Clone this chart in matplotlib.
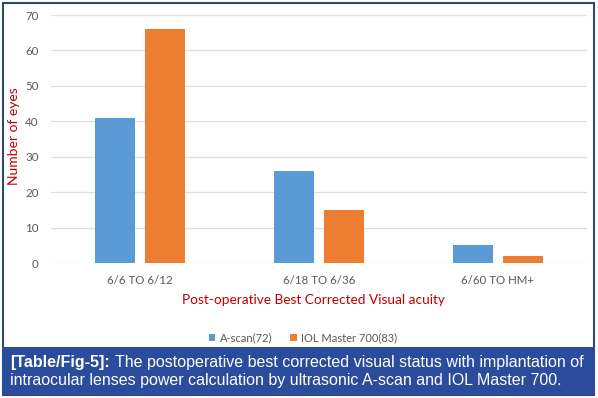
import numpy as np
import matplotlib
matplotlib.use("Agg")
from matplotlib import pyplot as plt
from matplotlib.patches import Rectangle


categories = ["6/6 TO 6/12", "6/18 TO 6/36", "6/60 TO HM+"]
a_scan = [41, 26, 5]
iol_master = [66, 15, 2]
series_names = ["A-scan(72)", "IOL Master 700(83)"]
y_ticks = [0, 10, 20, 30, 40, 50, 60, 70]

W, H = 598, 398
fig = plt.figure(figsize=(W / 100, H / 100), dpi=100)
fig.patch.set_facecolor("white")

# outer frame and caption box
fig.patches.append(Rectangle((3 / W, 3 / H), 591 / W, 392 / H, transform=fig.transFigure,
                             fill=False, edgecolor="#2f4a6d", linewidth=1.5))
fig.patches.append(Rectangle((2 / W, 1 - 395 / H), 593 / W, 48 / H, transform=fig.transFigure,
                             facecolor="#2b4c9c", edgecolor="none"))

ax = fig.add_axes([51 / W, 1 - 263 / H, 536 / W, 248 / H])
x = np.arange(len(categories))
w = 0.224
off = 0.14
ax.bar(x - off, a_scan, w, color="#5b9bd5", label=series_names[0], zorder=3)
ax.bar(x + off, iol_master, w, color="#ed7d31", label=series_names[1], zorder=3)

ax.set_xlim(-0.5, 2.5)
ax.set_ylim(0, 70)
ax.set_yticks(y_ticks)
ax.set_xticks(x)
ax.set_xticklabels(categories)
ax.grid(axis="y", color="#e3dede", linewidth=0.9, zorder=0)
for s in ax.spines.values():
    s.set_visible(False)
ax.tick_params(length=0, labelsize=8.3, labelcolor="#595959")
ax.tick_params(axis="y", pad=9)
ax.tick_params(axis="x", pad=9)
for lbl in ax.get_xticklabels() + ax.get_yticklabels():
    lbl.set_family("Lato")

fig.text(14 / W, 1 - 136 / H, "Number of eyes", rotation=90, color="#c00000",
         fontsize=10, family="Lato", ha="center", va="center")
fig.text(313 / W, 1 - 300 / H, "Post-operative Best Corrected Visual acuity", color="#c00000",
         fontsize=9.8, family="Lato", ha="center", va="center")

leg = fig.legend(loc="center", bbox_to_anchor=(303 / W, 1 - 338 / H), ncol=2, frameon=False,
                 prop={"family": "Lato", "size": 8}, handlelength=0.6, handleheight=0.6,
                 handletextpad=0.4, columnspacing=1.6, labelcolor="#595959")

cap = fig.text(10 / W, 1 - 362 / H, "[Table/Fig-5]:", color="white", fontsize=11.5,
               family="Liberation Sans", fontweight="bold", va="center")
fig.canvas.draw()
bb = cap.get_window_extent()
fig.text((bb.x1 + 5) / W, 1 - 362 / H, "The postoperative best corrected visual status with implantation of",
         color="white", fontsize=11.5, family="Liberation Sans", va="center")
fig.text(10 / W, 1 - 380 / H, "intraocular lenses power calculation by ultrasonic A-scan and IOL Master 700.",
         color="white", fontsize=11.5, family="Liberation Sans", va="center")

fig.savefig("out.png", dpi=100)
